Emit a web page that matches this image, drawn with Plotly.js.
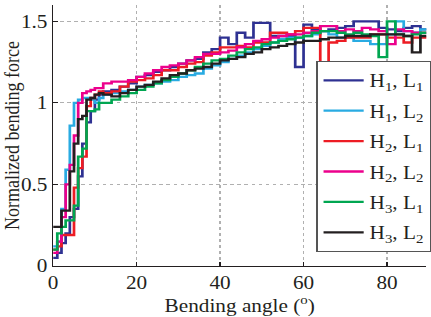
<!DOCTYPE html>
<html>
<head>
<meta charset="utf-8">
<script src="https://cdn.plot.ly/plotly-3.0.1.min.js"></script>
<style>
  html, body { margin: 0; padding: 0; background: #fff; overflow: hidden; }
  /* the figure is laid out narrower and widened to the 431px frame */
  #chart { width: 365px; height: 317px; transform: scaleX(1.1808); transform-origin: 0 0; }
</style>
</head>
<body>
<div id="chart"></div>
<script>
// Bending angle samples (degrees), shared by every specimen curve
const angle = [0,1,2,3,4,5,6,7,8,9,10,11,12,14,16,18,20,22,24,26,28,30,32,34,36,38,40,42,44,46,48,50,52,54,56,58,60,62,64,66,68,70,72,74,76,78,80,82,84,86,88,90];

// Normalized bending force for each specimen
const h1l1 = [0.05,0.08,0.14,0.2,0.3,0.35,0.55,0.75,0.88,0.95,1.02,1.05,1.07,1.08,1.1,1.12,1.16,1.17,1.19,1.2,1.22,1.24,1.26,1.27,1.31,1.33,1.4,1.36,1.43,1.4,1.49,1.49,1.41,1.41,1.41,1.22,1.48,1.45,1.44,1.45,1.46,1.47,1.5,1.5,1.5,1.46,1.45,1.44,1.46,1.47,1.45,1.45];
const h1l2 = [0.12,0.15,0.35,0.59,0.86,1.0,1.02,1.03,1.03,1.02,1.0,1.03,1.05,1.06,1.07,1.08,1.1,1.11,1.12,1.13,1.14,1.16,1.17,1.18,1.21,1.23,1.25,1.27,1.29,1.31,1.33,1.35,1.37,1.39,1.4,1.4,1.41,1.42,1.44,1.42,1.4,1.4,1.38,1.38,1.36,1.36,1.42,1.5,1.44,1.43,1.45,1.45];
const h2l1 = [0.1,0.12,0.19,0.19,0.19,0.48,0.6,0.67,0.98,1.03,1.05,1.07,1.06,1.07,1.1,1.13,1.14,1.15,1.17,1.2,1.2,1.22,1.24,1.25,1.29,1.31,1.34,1.34,1.35,1.34,1.37,1.37,1.43,1.43,1.42,1.44,1.46,1.46,1.2,1.37,1.38,1.4,1.4,1.4,1.42,1.42,1.4,1.4,1.37,1.4,1.4,1.4];
const h2l2 = [0.08,0.15,0.3,0.5,0.62,0.8,1.0,1.06,1.07,1.08,1.09,1.09,1.12,1.13,1.13,1.14,1.16,1.18,1.2,1.22,1.23,1.24,1.26,1.28,1.3,1.3,1.31,1.32,1.34,1.36,1.38,1.39,1.4,1.41,1.42,1.42,1.43,1.44,1.47,1.47,1.44,1.45,1.44,1.46,1.45,1.44,1.36,1.45,1.44,1.43,1.43,1.43];
const h3l1 = [0.1,0.2,0.24,0.28,0.28,0.37,0.67,0.72,0.95,0.95,0.96,1.0,1.0,1.02,1.04,1.06,1.08,1.1,1.12,1.14,1.16,1.18,1.2,1.22,1.24,1.26,1.27,1.29,1.31,1.33,1.34,1.36,1.37,1.38,1.39,1.4,1.41,1.43,1.44,1.44,1.43,1.42,1.43,1.42,1.41,1.28,1.5,1.42,1.41,1.42,1.43,1.43];
const h3l2 = [0.24,0.24,0.34,0.34,0.58,0.75,0.9,0.92,1.02,1.03,1.05,1.06,1.05,1.04,1.06,1.08,1.1,1.11,1.13,1.15,1.17,1.18,1.2,1.21,1.22,1.24,1.26,1.27,1.28,1.3,1.31,1.33,1.34,1.35,1.36,1.37,1.38,1.38,1.39,1.4,1.4,1.41,1.41,1.41,1.42,1.42,1.42,1.42,1.41,1.31,1.41,1.41];

const seriesNames = ['H<sub>1</sub>, L<sub>1</sub>','H<sub>1</sub>, L<sub>2</sub>','H<sub>2</sub>, L<sub>1</sub>','H<sub>2</sub>, L<sub>2</sub>','H<sub>3</sub>, L<sub>1</sub>','H<sub>3</sub>, L<sub>2</sub>'];
const seriesValues = [h1l1, h1l2, h2l1, h2l2, h3l1, h3l2];
const seriesColors = ['#2e3192','#29abe2','#ed1c24','#ec008c','#00a651','#231f20'];

const font = 'Liberation Serif';

const traces = seriesValues.map((vals, i) => ({
  type: 'scatter',
  mode: 'lines',
  x: angle,
  y: vals,
  name: seriesNames[i],
  legendgroup: 'g' + i,
  line: { shape: 'hv', color: seriesColors[i], width: 2.3 },
  hoverinfo: 'skip'
}));

const layout = {
  width: 365,
  height: 317,
  margin: { l: 45, r: 0, t: 5, b: 51, pad: 0 },
  paper_bgcolor: '#fff',
  plot_bgcolor: '#fff',
  font: { family: font, size: 18, color: '#231f20' },
  showlegend: true,
  legend: {
    x: 0.706, y: 0.785, xanchor: 'left', yanchor: 'top',
    bgcolor: '#fff', bordercolor: '#555', borderwidth: 1,
    font: { family: font, size: 18, color: '#231f20' },
    itemwidth: 34,
    tracegroupgap: 4
  },
  xaxis: {
    range: [0, 89.4],
    tickvals: [0, 20, 40, 60, 80],
    ticks: 'inside', ticklen: 4, tickcolor: '#231f20',
    showline: true, linecolor: '#231f20', linewidth: 1.2, mirror: false,
    showgrid: true, gridcolor: '#b0b0b0', griddash: 'dot', gridwidth: 1,
    zeroline: false,
    tickfont: { family: font, size: 18 },
    title: { text: 'Bending angle (<sup>o</sup>)', font: { family: font, size: 18 }, standoff: 14 }
  },
  yaxis: {
    range: [0, 1.6],
    tickvals: [0, 0.5, 1, 1.5],
    ticktext: ['0', '0.5', '1', '1.5'],
    ticks: 'inside', ticklen: 4, tickcolor: '#231f20',
    showline: true, linecolor: '#231f20', linewidth: 1.2, mirror: false,
    showgrid: true, gridcolor: '#b0b0b0', griddash: 'dot', gridwidth: 1,
    zeroline: false,
    tickfont: { family: font, size: 18 },
    title: { text: 'Normalized bending force', font: { family: font, size: 18 }, standoff: 4 }
  }
};

Plotly.newPlot('chart', traces, layout, { displayModeBar: false, staticPlot: true });
</script>
</body>
</html>
